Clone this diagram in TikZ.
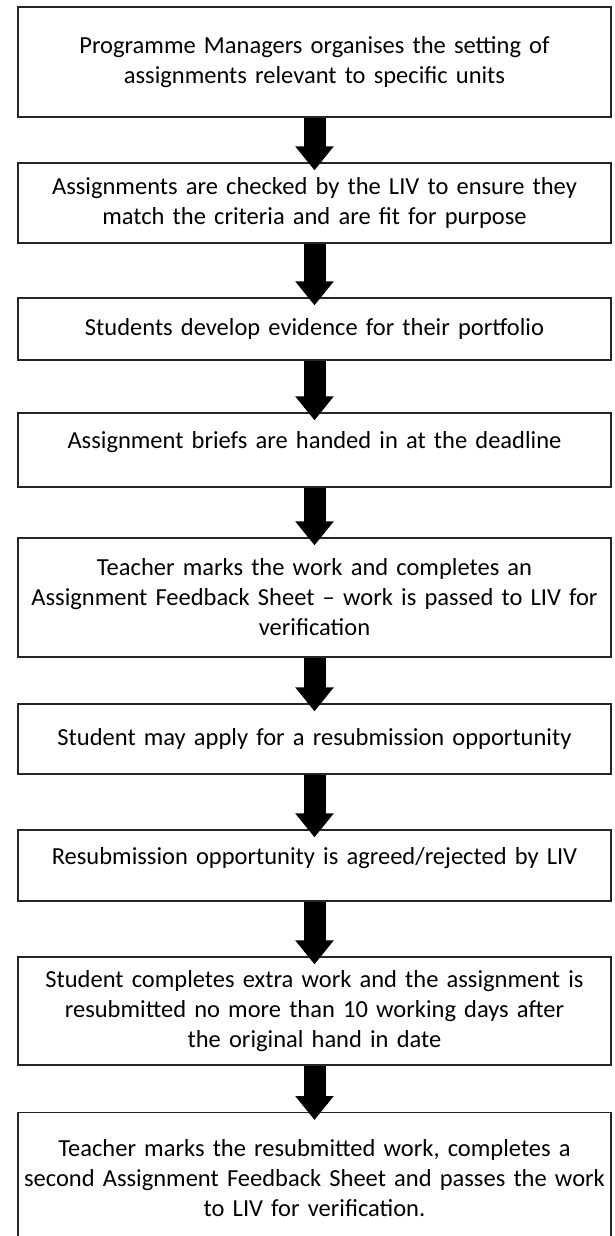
\documentclass[tikz,border=0pt]{standalone}
\usepackage{fontspec}
\setmainfont{Carlito}
\usetikzlibrary{arrows.meta}

\tikzset{
  stage/.style={draw=black!85, line width=1.3pt, text width=585pt, inner xsep=4pt,
    align=center, font=\fontsize{24.5}{30}\selectfont},
  flow/.style={line width=22pt, shorten >=-8pt,
    -{Triangle[width=37pt,length=24pt]}}
}

\begin{document}
\begin{tikzpicture}[x=1pt,y=-1pt]
            \useasboundingbox (0,0) rectangle (615,1236);

            \node[stage, minimum height=110pt] (plan) at (314.5,62) {Programme Managers organises the setting of\\assignments relevant to specific units};
            \node[stage, minimum height=80pt] (check) at (314.5,203) {Assignments are checked by the LIV to ensure they\\match the criteria and are fit for purpose};
            \node[stage, minimum height=62pt] (evidence) at (314.5,329) {Students develop evidence for their portfolio};
            \node[stage, minimum height=74pt, text depth=20pt] (handin) at (314.5,450) {Assignment briefs are handed in at the deadline};
            \node[stage, minimum height=119pt] (mark) at (314.5,597.5) {Teacher marks the work and completes an\\Assignment Feedback Sheet -- work is passed to LIV for\\verification};
            \node[stage, minimum height=70pt] (apply) at (314.5,739) {Student may apply for a resubmission opportunity};
            \node[stage, minimum height=71pt, text depth=20pt] (agree) at (314.5,865.5) {Resubmission opportunity is agreed/rejected by LIV};
            \node[stage, minimum height=108pt] (redo) at (314.5,1011) {Student completes extra work and the assignment is\\resubmitted no more than 10 working days after\\the original hand in date};
            \node[stage, minimum height=130pt, anchor=north] (remark) at (314.5,1112) {Teacher marks the resubmitted work, completes a\\second Assignment Feedback Sheet and passes the work\\to LIV for verification.};

            \draw (plan) edge[flow] (check);
            \draw (check) edge[flow] (evidence);
            \draw (evidence) edge[flow] (handin);
            \draw (handin) edge[flow] (mark);
            \draw (mark) edge[flow] (apply);
            \draw (apply) edge[flow] (agree);
            \draw (agree) edge[flow] (redo);
            \draw (redo) edge[flow] (remark);
        \end{tikzpicture}
\end{document}
